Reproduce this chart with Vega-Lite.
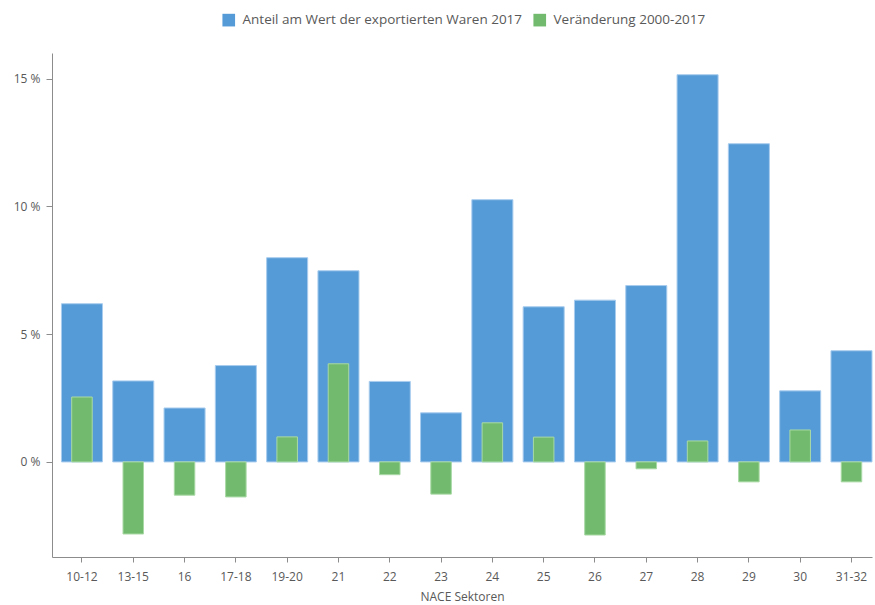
{
  "$schema": "https://vega.github.io/schema/vega-lite/v6.json",
  "width": 820,
  "height": 504,
  "padding": {"left": 52, "top": 53, "right": 3, "bottom": 48},
  "autosize": {"type": "none"},
  "background": "white",
  "config": {
    "view": {"stroke": null},
    "font": "Open Sans",
    "axis": {"labelColor": "#595959", "titleColor": "#595959", "labelFontSize": 12, "titleFontSize": 12, "titleFontWeight": "normal", "domainColor": "#8c8c8c", "tickColor": "#8c8c8c", "grid": false}
  },
  "data": {
    "values": [
      {"sektor": "10-12", "serie": "Anteil am Wert der exportierten Waren 2017", "wert": 6.19},
      {"sektor": "13-15", "serie": "Anteil am Wert der exportierten Waren 2017", "wert": 3.17},
      {"sektor": "16", "serie": "Anteil am Wert der exportierten Waren 2017", "wert": 2.11},
      {"sektor": "17-18", "serie": "Anteil am Wert der exportierten Waren 2017", "wert": 3.77},
      {"sektor": "19-20", "serie": "Anteil am Wert der exportierten Waren 2017", "wert": 7.99},
      {"sektor": "21", "serie": "Anteil am Wert der exportierten Waren 2017", "wert": 7.48},
      {"sektor": "22", "serie": "Anteil am Wert der exportierten Waren 2017", "wert": 3.15},
      {"sektor": "23", "serie": "Anteil am Wert der exportierten Waren 2017", "wert": 1.92},
      {"sektor": "24", "serie": "Anteil am Wert der exportierten Waren 2017", "wert": 10.26},
      {"sektor": "25", "serie": "Anteil am Wert der exportierten Waren 2017", "wert": 6.07},
      {"sektor": "26", "serie": "Anteil am Wert der exportierten Waren 2017", "wert": 6.33},
      {"sektor": "27", "serie": "Anteil am Wert der exportierten Waren 2017", "wert": 6.9},
      {"sektor": "28", "serie": "Anteil am Wert der exportierten Waren 2017", "wert": 15.15},
      {"sektor": "29", "serie": "Anteil am Wert der exportierten Waren 2017", "wert": 12.45},
      {"sektor": "30", "serie": "Anteil am Wert der exportierten Waren 2017", "wert": 2.78},
      {"sektor": "31-32", "serie": "Anteil am Wert der exportierten Waren 2017", "wert": 4.35},
      {"sektor": "10-12", "serie": "Veränderung 2000-2017", "wert": 2.54},
      {"sektor": "13-15", "serie": "Veränderung 2000-2017", "wert": -2.82},
      {"sektor": "16", "serie": "Veränderung 2000-2017", "wert": -1.3},
      {"sektor": "17-18", "serie": "Veränderung 2000-2017", "wert": -1.37},
      {"sektor": "19-20", "serie": "Veränderung 2000-2017", "wert": 0.98},
      {"sektor": "21", "serie": "Veränderung 2000-2017", "wert": 3.84},
      {"sektor": "22", "serie": "Veränderung 2000-2017", "wert": -0.5},
      {"sektor": "23", "serie": "Veränderung 2000-2017", "wert": -1.26},
      {"sektor": "24", "serie": "Veränderung 2000-2017", "wert": 1.53},
      {"sektor": "25", "serie": "Veränderung 2000-2017", "wert": 0.97},
      {"sektor": "26", "serie": "Veränderung 2000-2017", "wert": -2.86},
      {"sektor": "27", "serie": "Veränderung 2000-2017", "wert": -0.27},
      {"sektor": "28", "serie": "Veränderung 2000-2017", "wert": 0.82},
      {"sektor": "29", "serie": "Veränderung 2000-2017", "wert": -0.78},
      {"sektor": "30", "serie": "Veränderung 2000-2017", "wert": 1.25},
      {"sektor": "31-32", "serie": "Veränderung 2000-2017", "wert": -0.78}
    ]
  },
  "encoding": {
    "x": {
      "field": "sektor", "type": "nominal", "sort": null,
      "scale": {"paddingInner": 0.2, "paddingOuter": 0.092, "align": 1},
      "axis": {"title": "NACE Sektoren", "labelAngle": 0, "tickSize": 5, "labelPadding": 9, "titlePadding": 9, "domainWidth": 1}
    },
    "y": {
      "field": "wert", "type": "quantitative",
      "scale": {"domain": [-3.72, 16.0], "nice": false, "zero": false},
      "axis": {"title": null, "values": [0, 5, 10, 15], "labelExpr": "datum.value + ' %'", "tickSize": 6, "labelPadding": 6}
    },
    "color": {
      "field": "serie", "type": "nominal",
      "scale": {"domain": ["Anteil am Wert der exportierten Waren 2017", "Veränderung 2000-2017"], "range": ["#559BD7", "#72BB6E"]},
      "legend": {"title": null, "orient": "none", "direction": "horizontal", "legendX": 170, "legendY": -40, "symbolType": "square", "symbolSize": 160, "symbolStrokeWidth": 0, "labelFontSize": 13.5, "labelColor": "#595959", "labelLimit": 0, "columnPadding": 10, "labelOffset": 7}
    }
  },
  "layer": [
    {
      "transform": [{"filter": "datum.serie === 'Anteil am Wert der exportierten Waren 2017'"}],
      "mark": {"type": "bar", "stroke": "#A8CCEE", "strokeWidth": 1}
    },
    {
      "transform": [{"filter": "datum.serie === 'Veränderung 2000-2017'"}],
      "mark": {"type": "bar", "width": {"band": 0.5}, "stroke": "#A9D9A5", "strokeWidth": 1}
    }
  ]
}
